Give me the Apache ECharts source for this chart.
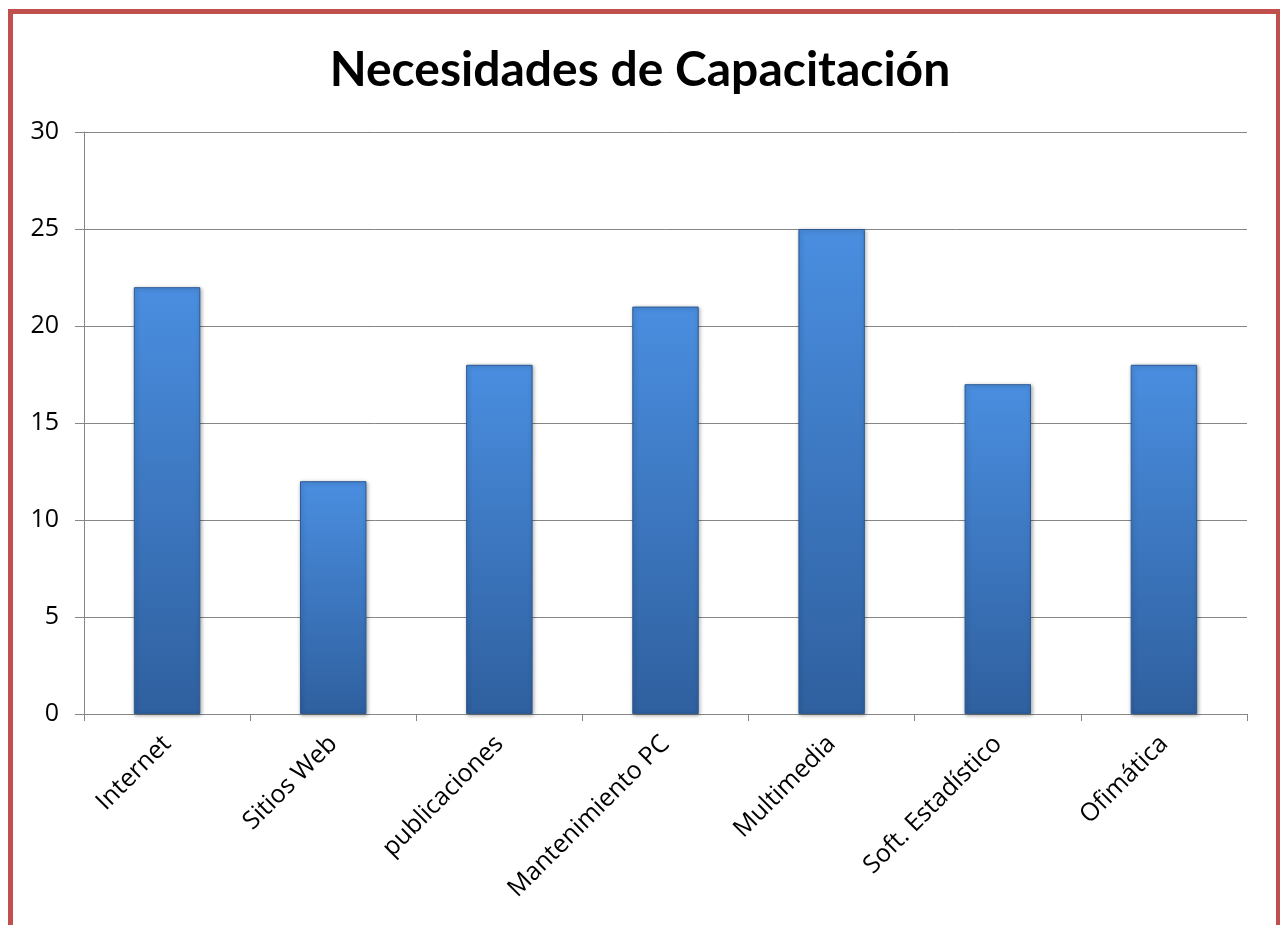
<!DOCTYPE html>
<html><head><meta charset="utf-8">
<script src="https://cdn.jsdelivr.net/npm/echarts@6/dist/echarts.min.js"></script>
<style>
html,body{margin:0;padding:0;background:#fff;}
#frame{position:absolute;left:8px;top:9px;width:1263px;height:930px;border-left:5px solid #C0504D;border-top:5px solid #C0504D;border-right:4px solid #C0504D;}
#main{position:absolute;left:0;top:0;width:1280px;height:925px;}
</style>
</head><body>
<div id="frame"></div>
<div id="main"></div>
<script>
const titleText = 'Necesidades de Capacitación';
const categories = ['Internet','Sitios Web','publicaciones','Mantenimiento PC','Multimedia','Soft. Estadístico','Ofimática'];
const values = [22, 12, 18, 21, 25, 17, 18];
const yMin = 0, yMax = 30, yStep = 5;

const chart = echarts.init(document.getElementById('main'));
chart.setOption({
  animation:false,
  title:{text:titleText,left:'center',top:42,textStyle:{fontFamily:'Lato',fontWeight:'bold',fontSize:48,color:'#000'}},
  grid:{left:84,right:33,top:132,bottom:211,containLabel:false},
  xAxis:{type:'category',data:categories,
    axisLine:{lineStyle:{color:'#868686',width:1}},
    axisTick:{show:true,length:7,lineStyle:{color:'#868686'}},
    axisLabel:{rotate:45,fontFamily:'Open Sans',fontSize:25,color:'#000',margin:26,interval:0}},
  yAxis:{type:'value',min:yMin,max:yMax,interval:yStep,
    axisLine:{show:true,lineStyle:{color:'#868686'}},
    axisTick:{show:true,length:9,lineStyle:{color:'#868686'}},
    splitLine:{lineStyle:{color:'#868686',width:1}},
    axisLabel:{fontFamily:'Open Sans',fontSize:25,color:'#000',margin:25}},
  series:[{type:'bar',data:values,barWidth:'40%',
    itemStyle:{
      color:new echarts.graphic.LinearGradient(0,0,0,1,[{offset:0,color:'#4a8ee0'},{offset:1,color:'#2f609f'}]),
      borderColor:'#2b5a94',borderWidth:1,
      shadowColor:'rgba(0,0,0,0.35)',shadowBlur:4,shadowOffsetX:1,shadowOffsetY:1}
  }]
});
</script>
</body></html>
